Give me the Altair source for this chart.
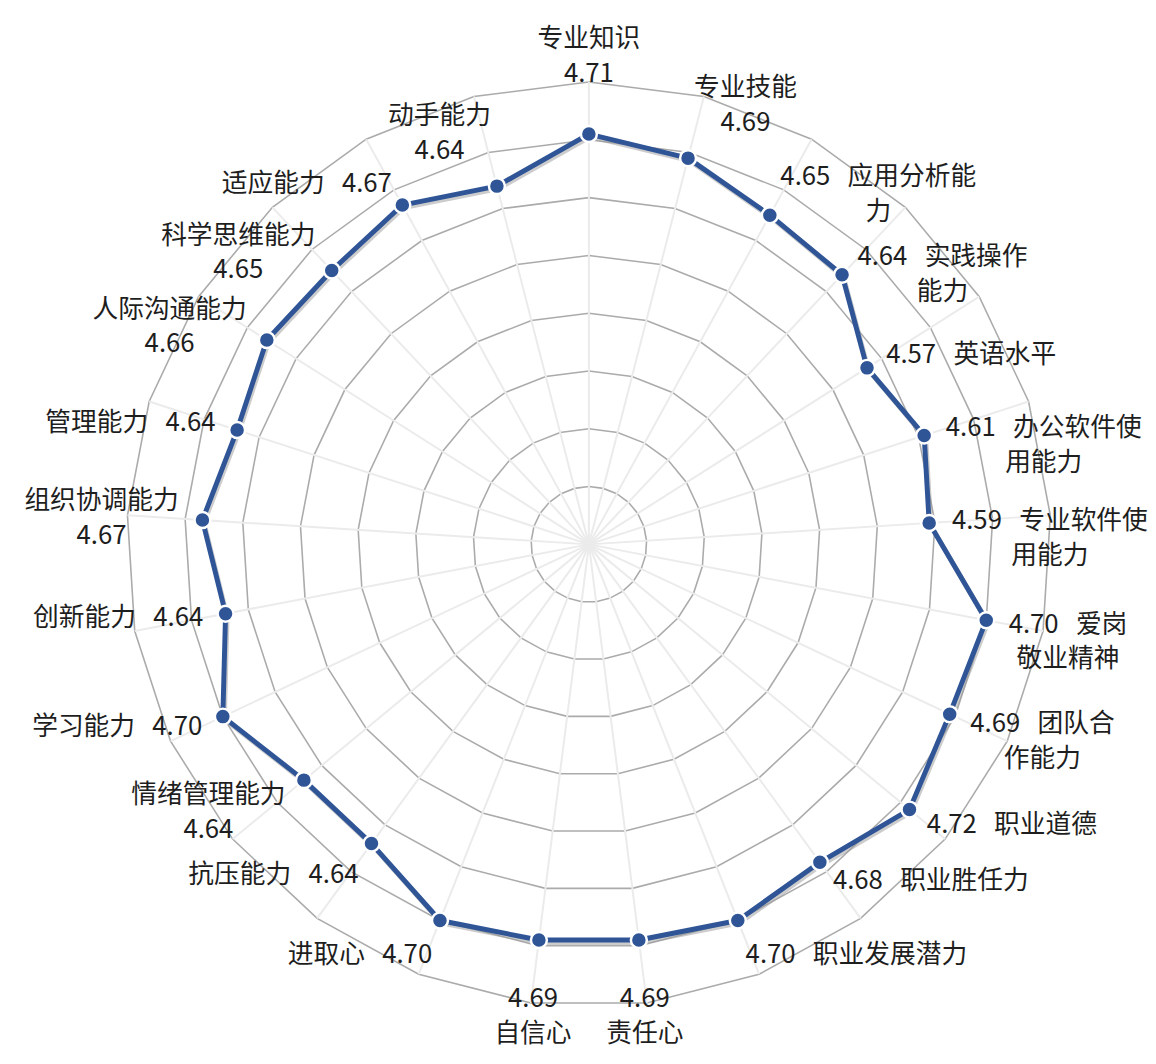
import math
import altair as alt
import pandas as pd

# ---------------- data ----------------
categories = ["专业知识", "专业技能", "应用分析能力", "实践操作能力", "英语水平",
              "办公软件使用能力", "专业软件使用能力", "爱岗敬业精神", "团队合作能力", "职业道德",
              "职业胜任力", "职业发展潜力", "责任心", "自信心", "进取心",
              "抗压能力", "情绪管理能力", "学习能力", "创新能力", "组织协调能力",
              "管理能力", "人际沟通能力", "科学思维能力", "适应能力", "动手能力"]
scores = [4.71, 4.69, 4.65, 4.64, 4.57,
          4.61, 4.59, 4.70, 4.69, 4.72,
          4.68, 4.70, 4.69, 4.69, 4.70,
          4.64, 4.64, 4.70, 4.64, 4.67,
          4.64, 4.66, 4.65, 4.67, 4.64]
# how each label is written: n = name, v = value, "/" = new line, " " = same line
label_order = ["n/v", "n/v", "v n", "v n", "v n",
               "v n", "v n", "v n", "v n", "v n",
               "v n", "v n", "v/n", "v/n", "n v",
               "n v", "n/v", "n v", "n v", "n/v",
               "n v", "n/v", "n/v", "n v", "n/v"]
# wrapped names (where the reference breaks the line)
name_wrap = {"应用分析能力": "应用分析能\n力", "实践操作能力": "实践操作\n能力",
             "办公软件使用能力": "办公软件使\n用能力", "专业软件使用能力": "专业软件使\n用能力",
             "爱岗敬业精神": "爱岗\n敬业精神", "团队合作能力": "团队合\n作能力"}
ring_levels = [4.1, 4.2, 4.3, 4.4, 4.5, 4.6, 4.7, 4.8]

# ---------------- layout ----------------
W, H = 1140, 1048
CX, CY = 587, 536.5        # centre of radar inside plot area (px)
PX_PER_UNIT = 584.0
BASE = 4.0
FONT = "Noto Sans CJK SC"
FS = 26
LH = 35
N = len(categories)
SEP = "\u00a0\u00a0\u00a0"

def ang(i):
    return 2 * math.pi * i / N

def rad(v):
    return (v - BASE) * PX_PER_UNIT

def char_w(ch):
    if ord(ch) > 0x2e80:
        return 1.0
    if ch in "0123456789":
        return 0.553
    if ch == ".":
        return 0.28
    if ch == "\u00a0":
        return 0.2
    return 0.5

def text_w(line):
    return sum(char_w(c) for c in line) * FS

# series
pts = pd.DataFrame({"idx": list(range(N)), "cat": categories, "score": scores})
line_df = pd.concat([pts, pts.iloc[[0]].assign(idx=N)], ignore_index=True)

def add_xy(df):
    return df.transform_calculate(
        th="2*PI*datum.idx/" + str(N),
    ).transform_calculate(
        px="(datum.score-" + str(BASE) + ")*" + str(PX_PER_UNIT) + "*sin(datum.th)",
        py="(datum.score-" + str(BASE) + ")*" + str(PX_PER_UNIT) + "*cos(datum.th)",
    )

xs = alt.Scale(domain=[-CX, W - CX], nice=False, zero=False)
ys = alt.Scale(domain=[CY - H, CY], nice=False, zero=False)
X = lambda f: alt.X(f, type="quantitative", scale=xs, axis=None)
Y = lambda f: alt.Y(f, type="quantitative", scale=ys, axis=None)

# rings
ring_rows = []
for lv in ring_levels:
    for i in range(N + 1):
        t = ang(i % N)
        ring_rows.append({"ring": lv, "k": i, "x": rad(lv) * math.sin(t), "y": rad(lv) * math.cos(t)})
rings = alt.Chart(pd.DataFrame(ring_rows)).mark_line(
    color="#ababab", strokeWidth=1.6
).encode(x=X("x"), y=Y("y"), detail="ring:N", order="k:Q")

# spokes
outer = rad(max(ring_levels))
spoke_df = pd.DataFrame({
    "x": [0.0] * N, "y": [0.0] * N,
    "x2": [outer * math.sin(ang(i)) for i in range(N)],
    "y2": [outer * math.cos(ang(i)) for i in range(N)],
})
spokes = alt.Chart(spoke_df).mark_rule(color="#ebebeb", strokeWidth=2).encode(
    x=X("x"), y=Y("y"), x2="x2:Q", y2="y2:Q")

# series line + shadow + points
shadow = add_xy(alt.Chart(line_df)).mark_line(
    color="#9a9a9a", strokeWidth=5, opacity=0.5, xOffset=1.5, yOffset=2.5
).encode(x=X("px"), y=Y("py"), order="idx:Q")
series = add_xy(alt.Chart(line_df)).mark_line(
    color="#2f5597", strokeWidth=5, strokeJoin="round"
).encode(x=X("px"), y=Y("py"), order="idx:Q")
dots = add_xy(alt.Chart(pts)).mark_point(
    shape="circle", filled=True, size=260, color="#2f5597",
    stroke="white", strokeWidth=2.5, opacity=1
).encode(x=X("px"), y=Y("py"))

# labels
lab_rows = []
for i, (c, v, o) in enumerate(zip(categories, scores, label_order)):
    name = name_wrap.get(c, c)
    val = f"{v:.2f}"
    if o == "n/v":
        txt = name + "\n" + val
    elif o == "v/n":
        txt = val + "\n" + name
    elif o == "n v":
        txt = name + SEP + val
    else:
        txt = val + SEP + name
    lines = txt.split("\n")
    n = len(lines)
    w = max(text_w(l) for l in lines)
    h = 25 + (n - 1) * LH
    t = ang(i)
    s, co = math.sin(t), math.cos(t)
    r = rad(v)
    px, py = r * s, r * co
    if abs(s) < 0.15:
        ha = "center"
    else:
        ha = "left" if s > 0 else "right"
    if co > 0.9 or co < -0.9 or (s < 0 and co < -0.7):
        va = "bottom" if co > 0 else "top"
    else:
        va = "middle"
    d = 48 if ha == "center" else 24
    ax, ay = px + d * s, py + d * co
    cx = ax + w / 2 if ha == "left" else (ax - w / 2 if ha == "right" else ax)
    if va == "bottom":
        cy = ay + h / 2
    elif va == "top":
        cy = ay - h / 2
    elif co > 0.8 or (s < 0 and co > 0):
        cy = ay
    else:
        cy = ay - (n - 1) * LH / 2   # first line level with the anchor
    y_first = cy + (n - 1) * LH / 2  # vega places the first line at y
    lab_rows.append({"txt": txt, "x": cx, "y": y_first})
labels = alt.Chart(pd.DataFrame(lab_rows)).mark_text(
    font=FONT, fontSize=FS, color="#1e1e1e", align="center", baseline="middle",
    lineBreak="\n", lineHeight=LH
).encode(x=X("x"), y=Y("y"), text="txt:N")

chart = alt.layer(rings, spokes, shadow, series, dots, labels).properties(
    width=W, height=H, padding=0, background="white"
).configure_view(strokeWidth=0, stroke=None)

chart.save("out.html", embed_options={"renderer": "svg", "actions": False})
